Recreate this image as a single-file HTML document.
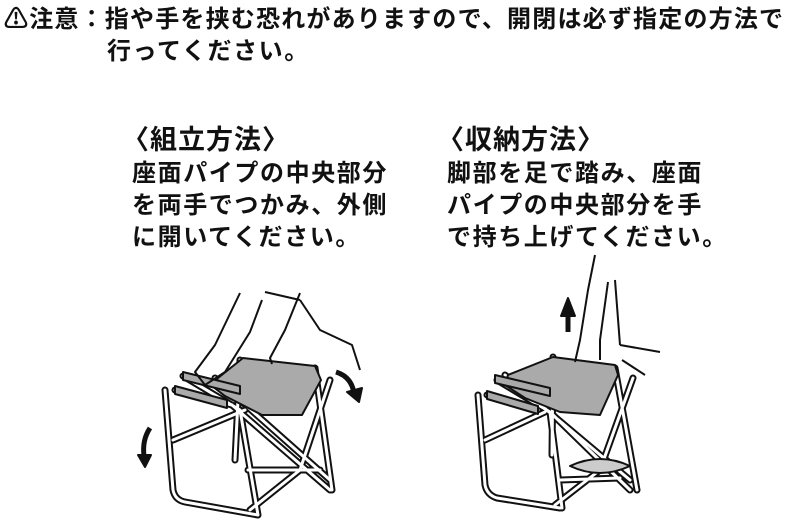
<!DOCTYPE html>
<html><head><meta charset="utf-8"><style>
body{margin:0;width:800px;height:528px;background:#fff;overflow:hidden;position:relative;font-family:"Liberation Sans","Noto Sans CJK JP",sans-serif;color:#111}
.t{position:absolute;white-space:nowrap;font-size:24px;line-height:32px;letter-spacing:1.6px;font-weight:bold}
.h{position:absolute;white-space:nowrap;font-size:27px;letter-spacing:1px;font-weight:bold}
.tb{stroke:#111;stroke-width:7;fill:none;stroke-linecap:round;stroke-linejoin:round}
.tw{stroke:#fff;stroke-width:3;fill:none;stroke-linecap:round;stroke-linejoin:round}
</style></head><body>
<div class="t" style="left:4px;top:4px;letter-spacing:1.2px">⚠注意：指や手を挟む恐れがありますので、開閉は必ず指定の方法で</div>
<div class="t" style="left:107px;top:36px">行ってください。</div>
<div class="h" style="left:122px;top:118px">〈組立方法〉</div>
<div class="h" style="left:437px;top:118px">〈収納方法〉</div>
<div class="t" style="left:132px;top:158px">座面パイプの中央部分<br>を両手でつかみ、外側<br>に開いてください。</div>
<div class="t" style="left:447px;top:158px">脚部を足で踏み、座面<br>パイプの中央部分を手<br>で持ち上げてください。</div>
<svg width="800" height="528" style="position:absolute;left:0;top:0" fill="none" stroke="#111" stroke-width="2" stroke-linejoin="round">
<defs>
<path id="L" d="M165 390 L173 490 Q175 500 185 502 L258 515 M183 376 L240 410 L258 515 M175 390 L232 405 M240 360 L235 460 M315 368 L332 490 M232 405 L330 490 M330 380 L300 470 M300 470 L250 510 M173 440 L245 410 M248 470 L320 470 M215 378 L330 480"/>
<path id="R" d="M478 395 L485 485 Q487 495 497 498 L560 508 M497 380 L550 412 L562 508 M487 395 L538 410 M553 357 L552 455 M615 368 L637 490 M550 412 L630 490 M633 378 L600 470 M600 470 L555 505 M485 440 L545 412 M560 480 L620 478 M505 375 L630 480"/>
</defs>
<use href="#L" class="tb"/><use href="#L" class="tw"/>
<path d="M243 358 L315 366 L321 380 L302 415 L262 415 L225 396 L212 386 L218 378Z" fill="#aaa"/>
<path d="M175 386 L227 400 L227 408 L175 394Z" fill="#aaa"/>
<path d="M183 372 L240 386 L240 394 L183 380Z" fill="#aaa"/>
<path d="M240 293 L215 345 L195 372 L205 385 L225 372 L250 332 L262 300 M265 292 L300 300 M300 293 L285 330 L270 358 L272 364 M300 300 L320 330 L352 345 L360 370"/>
<path d="M336 372 q16 5 18 22" stroke-width="5"/><path d="M347 392 l12 10 l3 -14z" fill="#111"/>
<path d="M150 428 q-8 12 -6 28" stroke-width="5"/><path d="M138 455 l7 12 l6 -12z" fill="#111"/>
<use href="#R" class="tb"/><use href="#R" class="tw"/>
<path d="M553 357 L615 365 L618 375 L600 415 L560 412 L525 398 L505 385 L508 375Z" fill="#aaa"/>
<path d="M487 391 L538 406 L538 414 L487 399Z" fill="#aaa"/>
<path d="M495 375 L550 388 L550 396 L495 383Z" fill="#aaa"/>
<path d="M595 255 L588 290 L580 340 L575 362 M608 282 L600 340 L600 360 M615 280 L620 345 M620 345 L660 352 M622 360 L645 375"/>
<path d="M570 466 Q600 452 630 466 Q600 480 570 466Z" fill="#ccc"/>
<path d="M568 332 L568 314" stroke-width="5"/><path d="M561 316 L568 298 L575 316Z" fill="#111"/>
</svg>
</body></html>
